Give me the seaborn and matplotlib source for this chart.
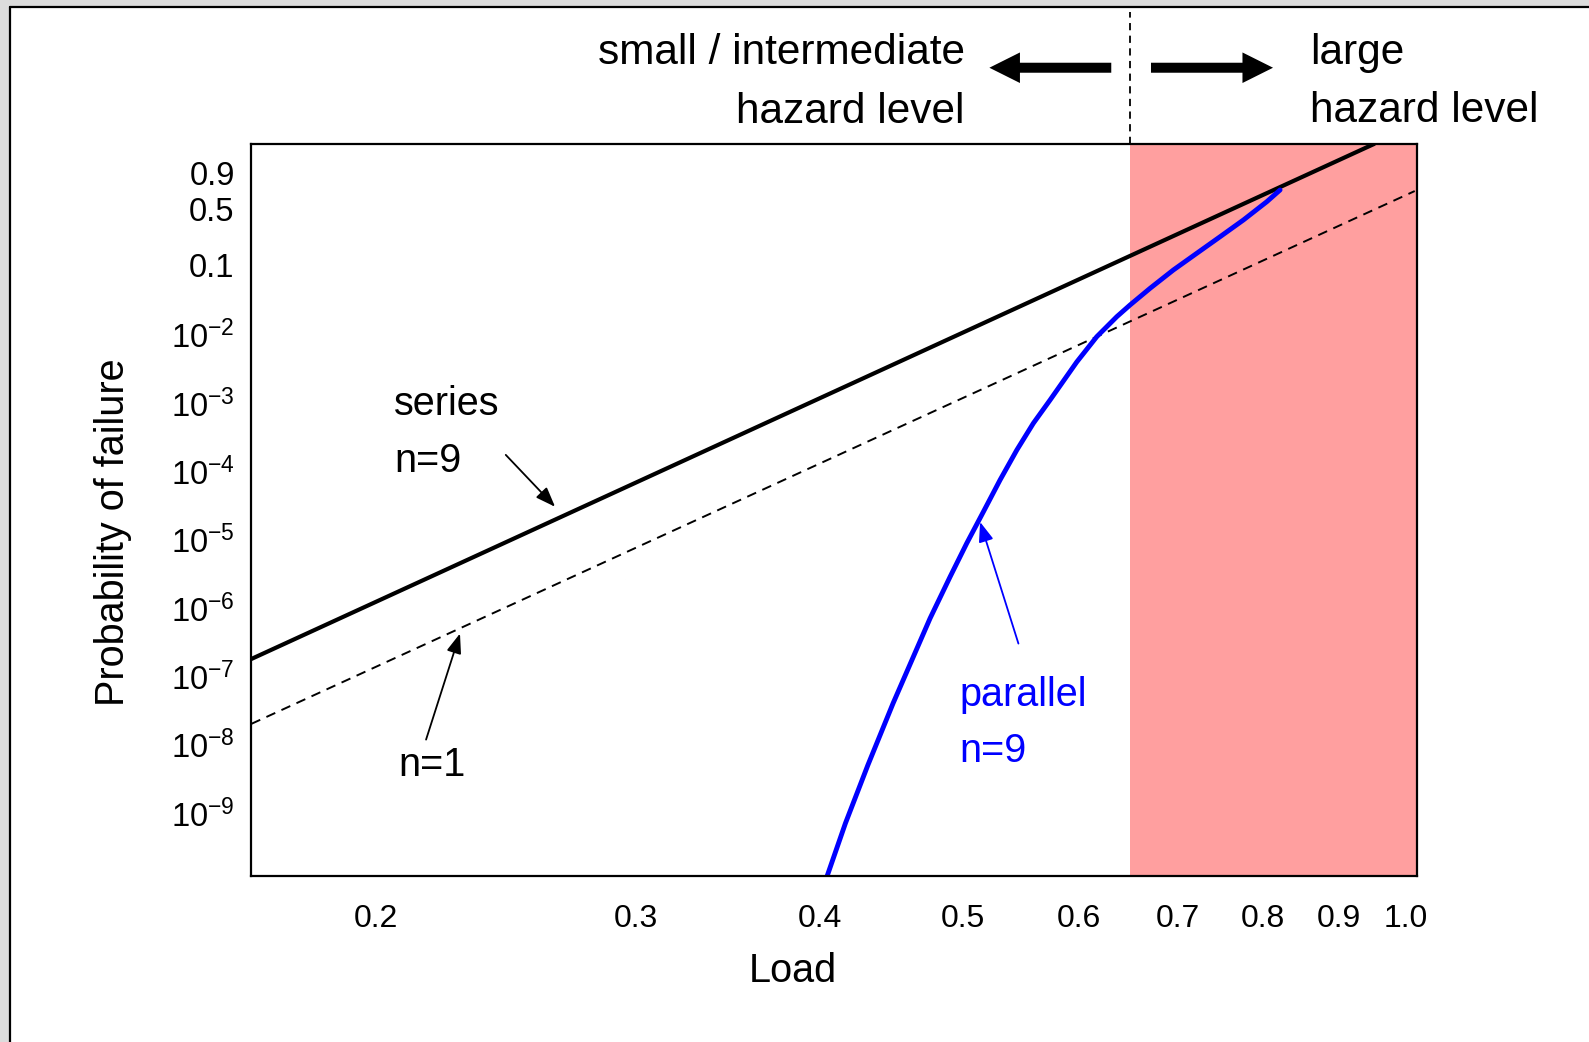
import numpy as np
import matplotlib
matplotlib.use('Agg')
import matplotlib.pyplot as plt
import seaborn as sns
from matplotlib.patches import Rectangle, FancyArrowPatch
from matplotlib.lines import Line2D
from matplotlib.ticker import NullLocator

# --- data (load vs probability of failure) ---
# series system, n=9 (straight on Weibull paper)
series_load = [0.1646, 0.9513]
series_prob = [1.79e-7, 0.99795]

# single element, n=1 (dashed)
single_load = [0.1646, 1.0135]
single_prob = [2.01e-8, 0.7174]

# parallel system, n=9 (blue curve)
parallel_load = [0.4044, 0.4164, 0.4313, 0.4486, 0.4753, 0.4904, 0.5033,
                 0.5166, 0.5302, 0.5443, 0.5585, 0.5733, 0.5977, 0.6167,
                 0.6363, 0.6496, 0.6703, 0.6951, 0.7210, 0.7478, 0.7755,
                 0.8044, 0.8212]
parallel_prob = [1.14e-10, 7.04e-10, 5.02e-9, 4.02e-8, 7.05e-7, 2.86e-6,
                 8.83e-6, 2.56e-5, 7.46e-5, 2.05e-4, 5.04e-4, 1.104e-3,
                 3.970e-3, 9.29e-3, 1.815e-2, 2.680e-2, 4.658e-2, 8.459e-2,
                 0.1437, 0.2378, 0.3792, 0.5866, 0.7303]

hazard_limit = 0.65

x_ticks = [0.2, 0.3, 0.4, 0.5, 0.6, 0.7, 0.8, 0.9, 1.0]
x_ticklabels = ['0.2', '0.3', '0.4', '0.5', '0.6', '0.7', '0.8', '0.9', '1.0']
y_ticks = [0.9, 0.5, 0.1, 1e-2, 1e-3, 1e-4, 1e-5, 1e-6, 1e-7, 1e-8, 1e-9]
y_ticklabels = ['0.9', '0.5', '0.1'] + [r'$\mathregular{10^{-%d}}$' % k for k in range(2, 10)]


# Weibull probability axis: w = ln(-ln(1-p))
def weibull(p):
    p = np.asarray(p, dtype=float)
    with np.errstate(divide='ignore', invalid='ignore'):
        return np.log(-np.log1p(-p))


def weibull_inv(w):
    w = np.asarray(w, dtype=float)
    return -np.expm1(-np.exp(w))


sns.set_style('white')
plt.rcParams['font.family'] = ['Liberation Sans', 'DejaVu Sans']
plt.rcParams['mathtext.fontset'] = 'custom'
plt.rcParams['mathtext.rm'] = 'Liberation Sans'
plt.rcParams['mathtext.it'] = 'Liberation Sans:italic'
plt.rcParams['mathtext.bf'] = 'Liberation Sans:bold'
plt.rcParams['text.color'] = 'black'
plt.rcParams['xtick.color'] = 'black'
plt.rcParams['ytick.color'] = 'black'

fig = plt.figure(figsize=(15.89, 10.42), dpi=100, facecolor='white')
ax = fig.add_axes([0.1582, 0.1595, 0.7334, 0.7024])
ax.set_facecolor('white')

# screenshot frame (grey strip + black edge on left and top)
fig.add_artist(Rectangle((0, 0), 0.0057, 1, transform=fig.transFigure,
                         facecolor='#dcdcdc', edgecolor='none', zorder=-5))
fig.add_artist(Rectangle((0, 0.9942), 1, 0.0058, transform=fig.transFigure,
                         facecolor='#dcdcdc', edgecolor='none', zorder=-5))
fig.add_artist(Line2D([0.0063, 0.0063], [0, 0.9935], transform=fig.transFigure,
                      color='black', lw=1.6))
fig.add_artist(Line2D([0.0063, 1], [0.9935, 0.9935], transform=fig.transFigure,
                      color='black', lw=1.6))

# lines
sns.lineplot(x=series_load, y=series_prob, ax=ax, color='black', lw=3.0)
sns.lineplot(x=single_load, y=single_prob, ax=ax, color='black', lw=1.4,
             linestyle=(0, (5, 3.5)))
sns.lineplot(x=parallel_load, y=parallel_prob, ax=ax, color='#0000ff', lw=3.5)

ax.set_xscale('log')
ax.set_yscale('function', functions=(weibull, weibull_inv))
ax.set_xlim(0.1646, 1.0167)
ax.set_ylim(1.2e-10, 0.99795)

# large hazard region
ax.axvspan(hazard_limit, 1.0167, color='#ff9f9f', lw=0, zorder=0)
ax.axvline(hazard_limit, ymin=1.0, ymax=1.1807, color='black', lw=1.3,
           ls=(0, (4, 3)), clip_on=False)

ax.set_xticks(x_ticks)
ax.set_xticklabels(x_ticklabels)
ax.set_yticks(y_ticks)
ax.set_yticklabels(y_ticklabels)
ax.xaxis.set_minor_locator(NullLocator())
ax.yaxis.set_minor_locator(NullLocator())
ax.tick_params(axis='x', direction='in', length=7.5, width=1.0, pad=20,
               labelsize=23, color='black', labelcolor='black')
ax.tick_params(axis='y', direction='in', length=9.5, width=1.0, pad=12,
               labelsize=23.5, color='black', labelcolor='black')
ax.xaxis.get_major_ticks()[-1].tick1line.set_visible(False)
ax.set_xlabel('')
ax.set_ylabel('')
for s in ax.spines.values():
    s.set_color('black')
    s.set_linewidth(1.6)
    s.set_visible(True)

# axis titles
fig.text(0.0714, 0.4893, 'Probability of failure', rotation=90,
         ha='center', va='center', fontsize=28.5)
fig.text(0.4987, 0.0574, 'Load', ha='center', va='baseline', fontsize=28.5)

# hazard level headings and arrows
fig.text(0.6071, 0.9387, 'small / intermediate', ha='right', va='baseline',
         fontsize=30.5)
fig.text(0.6071, 0.8823, 'hazard level', ha='right', va='baseline',
         fontsize=30.5)
fig.text(0.8246, 0.9387, 'large', ha='left', va='baseline', fontsize=30.5)
fig.text(0.8246, 0.8833, 'hazard level', ha='left', va='baseline',
         fontsize=30.5)

big_arrow = 'simple,head_length=1.1,head_width=1.1,tail_width=0.36'
for a, b in [((0.7011, 0.9350), (0.6209, 0.9350)),
             ((0.7226, 0.9350), (0.8029, 0.9350))]:
    fig.add_artist(FancyArrowPatch(a, b, transform=fig.transFigure,
                                   arrowstyle=big_arrow, mutation_scale=20,
                                   color='black', lw=0))

# labels on curves
ax.text(0.1226, 0.6295, 'series', transform=ax.transAxes, fontsize=28.5,
        va='baseline')
ax.text(0.1226, 0.5519, 'n=9', transform=ax.transAxes, fontsize=28.5,
        va='baseline')
ax.text(0.1261, 0.1360, 'n=1', transform=ax.transAxes, fontsize=28.5,
        va='baseline')
ax.text(0.6076, 0.2323, 'parallel', transform=ax.transAxes, fontsize=28.5,
        color='#0000ff', va='baseline')
ax.text(0.6076, 0.1558, 'n=9', transform=ax.transAxes, fontsize=28.5,
        color='#0000ff', va='baseline')

small_arrow = '-|>,head_length=0.8,head_width=0.3'
for tail, head, col in [((0.2183, 0.5751), (0.2606, 0.5042), 'black'),
                        ((0.1499, 0.1861), (0.1790, 0.3310), 'black'),
                        ((0.6582, 0.3173), (0.6253, 0.4835), '#0000ff')]:
    ax.annotate('', xy=head, xycoords='axes fraction', xytext=tail,
                textcoords='axes fraction',
                arrowprops=dict(arrowstyle=small_arrow, mutation_scale=15,
                                color=col, lw=1.3, shrinkA=0, shrinkB=0))

fig.savefig('out.png', dpi=100, facecolor='white')
